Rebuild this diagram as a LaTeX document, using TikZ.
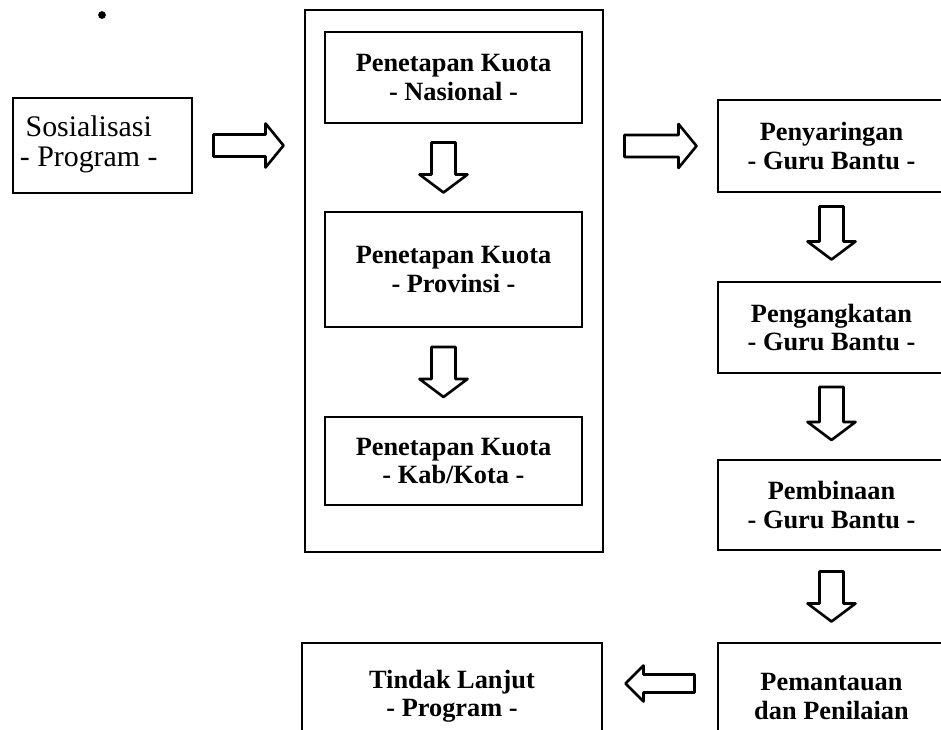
\documentclass[tikz,border=0pt]{standalone}
\usepackage{fontspec}
\setmainfont{Liberation Serif}
\usetikzlibrary{calc}

\tikzset{
  box/.style={draw, line width=1.5pt, align=center, inner sep=2pt,
    font=\fontsize{15}{16}\selectfont\bfseries},
  blockline/.style={line width=1.5pt, line join=round},
}

% hollow block arrow: position, angle, length, half head width
\newcommand{\hollowarrow}[4]{%
  \draw[blockline, shift={(#1)}, rotate=#2]
    (-#3/2,-#4/2) -- (#3/2-18,-#4/2) -- (#3/2-18,-#4) -- (#3/2,0)
    -- (#3/2-18,#4) -- (#3/2-18,#4/2) -- (-#3/2,#4/2) -- cycle;}

\begin{document}
\begin{tikzpicture}[x=0.02cm, y=-0.02cm]
  \useasboundingbox (0,0) rectangle (941,730);
  \clip (0,0) rectangle (941,730);

  \fill (102,15) circle[radius=2.2pt];

  % left
  \node[box, font=\fontsize{17}{17}\selectfont, minimum width=3.58cm, minimum height=1.9cm] (sos) at (102.5,145.5)
    {\begin{tabular}{@{}c@{}}Sosialisasi\\- Program -\end{tabular}\hspace{0.55cm}};

  % kuota
  \node[box, minimum width=5.96cm, minimum height=10.84cm] (outer) at (454,281) {};
  \node[box, minimum width=5.14cm, minimum height=1.82cm] (nas) at (453.5,77.5) {Penetapan Kuota\\- Nasional -};
  \node[box, minimum width=5.14cm, minimum height=2.3cm] (prov) at (453.5,269.5) {Penetapan Kuota\\- Provinsi -};
  \node[box, minimum width=5.14cm, minimum height=1.76cm] (kab) at (453.5,461) {Penetapan Kuota\\- Kab/Kota -};
  \node[box, minimum width=6cm, minimum height=2.14cm] (tl) at (452,696.5) {Tindak Lanjut\\- Program -};

  % guru bantu
  \node[box, minimum width=4.54cm, minimum height=1.84cm] (peny) at (831.5,146) {Penyaringan\\- Guru Bantu -};
  \node[box, minimum width=4.54cm, minimum height=1.82cm] (peng) at (831.5,327.5) {Pengangkatan\\- Guru Bantu -};
  \node[box, minimum width=4.54cm, minimum height=1.8cm] (pemb) at (831.5,505) {Pembinaan\\- Guru Bantu -};
  \node[box, minimum width=4.54cm, minimum height=2.14cm] (pem) at (831.5,696.5) {Pemantauan\\dan Penilaian};

  % arrows
  \coordinate (a1) at ($(sos.east)!0.5!(outer.west|-sos.east)$);
  \coordinate (a2) at ($(outer.east|-peny.west)!0.5!(peny.west)$);
  \coordinate (d1) at ($(nas.south)!0.5!(prov.north) + (-10,0)$);
  \coordinate (d2) at ($(prov.south)!0.5!(kab.north) + (-10,0)$);
  \coordinate (r1) at ($(peny.south)!0.5!(peng.north) + (0,-4)$);
  \coordinate (r2) at ($(peng.south)!0.5!(pemb.north) + (0,-3)$);
  \coordinate (r3) at ($(pemb.south)!0.5!(pem.north)$);
  \coordinate (b1) at ($(tl.east)!0.5!(pem.west) + (0,-13)$);

  \hollowarrow{a1}{0}{70}{22}
  \hollowarrow{a2}{0}{72}{22}
  \hollowarrow{d1}{-90}{50}{24}
  \hollowarrow{d2}{-90}{50}{24}
  \hollowarrow{r1}{-90}{53}{24}
  \hollowarrow{r2}{-90}{53}{24}
  \hollowarrow{r3}{-90}{50}{24}
  \hollowarrow{b1}{180}{69}{18}
\end{tikzpicture}
\end{document}
